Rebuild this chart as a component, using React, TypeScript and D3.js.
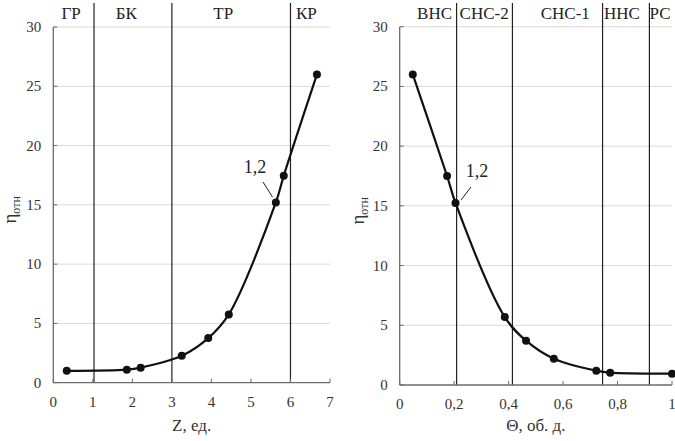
import React from "react";
import * as d3 from "d3";

const zValues = [0.34, 1.86, 2.21, 3.25, 3.92, 4.44, 5.63, 5.83, 6.67];
const etaLeft = [1.0, 1.1, 1.27, 2.27, 3.76, 5.76, 15.2, 17.45, 26.0];
const thetaValues = [0.048, 0.174, 0.205, 0.386, 0.464, 0.566, 0.722, 0.773, 1.0];
const etaRight = [26.0, 17.5, 15.24, 5.69, 3.71, 2.2, 1.2, 1.03, 0.95];
const leftBounds = [1.03, 3.0, 6.0];
const rightBounds = [0.209, 0.414, 0.745, 0.917];
const leftZones = [
  { label: "ГР", x: 0.45 },
  { label: "БК", x: 1.85 },
  { label: "ТР", x: 4.3 },
  { label: "КР", x: 6.4 },
];
const rightZones = [
  { label: "ВНС", x: 0.128 },
  { label: "СНС-2", x: 0.31 },
  { label: "СНС-1", x: 0.608 },
  { label: "ННС", x: 0.816 },
  { label: "РС", x: 0.956 },
];
const yTicks = [0, 5, 10, 15, 20, 25, 30];
const leftXTicks = [0, 1, 2, 3, 4, 5, 6, 7];
const rightXTicks = [0, 0.2, 0.4, 0.6, 0.8, 1];

const FONT = "\"Liberation Serif\", \"Times New Roman\", \"DejaVu Serif\", serif";
const fs = (size: number) => ({ fontFamily: FONT, fontSize: size + "px" });

type PanelProps = {
  xs: number[];
  ys: number[];
  xDomain: [number, number];
  xRange: [number, number];
  yRange: [number, number];
  xTicks: number[];
  fmt: (v: number) => string;
  bounds: number[];
  zones: { label: string; x: number }[];
  title: string;
  yLabelX: number;
  annText: [number, number];
  annLine: [number, number, number, number];
};

function Panel(p: PanelProps) {
  const x = d3.scaleLinear().domain(p.xDomain).range(p.xRange);
  const y = d3.scaleLinear().domain([0, 30]).range(p.yRange);
  const pts = p.xs.map((v, i) => [x(v), y(p.ys[i])] as [number, number]);
  const line = d3.line().curve(d3.curveCatmullRom.alpha(0.5))(pts) || "";
  const [x0, x1] = p.xRange;
  const [y0, y1] = p.yRange;
  const axisColor = "#6b6b6b";
  return (
    <g>
      {yTicks.filter((t) => t > 0).map((t) => (
        <line key={"g" + t} x1={x0} x2={x1} y1={y(t)} y2={y(t)} stroke="#d9d9d9" strokeWidth={1} />
      ))}
      {p.bounds.map((b, i) => (
        <line key={"b" + i} x1={x(b)} x2={x(b)} y1={3} y2={y0} stroke="#222" strokeWidth={1.2} />
      ))}
      <line x1={x0} x2={x0} y1={y0} y2={y1} stroke={axisColor} strokeWidth={1.3} />
      <line x1={x0} x2={x1} y1={y0} y2={y0} stroke={axisColor} strokeWidth={1.3} />
      {yTicks.map((t) => (
        <g key={"yt" + t}>
          <line x1={x0} x2={x0 + 4} y1={y(t)} y2={y(t)} stroke={axisColor} strokeWidth={1} />
          <text x={x0 - 12} y={y(t) + 5} textAnchor="end" style={fs(15)} fill="#333">
            {t}
          </text>
        </g>
      ))}
      {p.xTicks.map((t) => (
        <g key={"xt" + t}>
          <line x1={x(t)} x2={x(t)} y1={y0} y2={y0 - 4} stroke={axisColor} strokeWidth={1} />
          <text x={x(t)} y={y0 + 24} textAnchor="middle" style={fs(15)} fill="#333">
            {p.fmt(t)}
          </text>
        </g>
      ))}
      {p.zones.map((z) => (
        <text key={z.label} x={x(z.x)} y={19} textAnchor="middle" style={fs(17)} fill="#222">
          {z.label}
        </text>
      ))}
      <path d={line} fill="none" stroke="#111" strokeWidth={2.2} />
      {pts.map((pt, i) => (
        <circle key={"p" + i} cx={pt[0]} cy={pt[1]} r={4} fill="#111" />
      ))}
      <text x={p.annText[0]} y={p.annText[1]} textAnchor="middle" style={fs(18)} fill="#222">
        1,2
      </text>
      <line x1={p.annLine[0]} y1={p.annLine[1]} x2={p.annLine[2]} y2={p.annLine[3]} stroke="#222" strokeWidth={1} />
      <text x={(x0 + x1) / 2} y={431} textAnchor="middle" style={fs(17)} fill="#333">
        {p.title}
      </text>
      <text
        transform={`translate(${p.yLabelX}, ${(y0 + y1) / 2 + 5}) rotate(-90)`}
        textAnchor="middle"
        style={{ fontFamily: FONT }}
        fill="#333"
      >
        <tspan style={{ fontSize: "19px" }}>η</tspan>
        <tspan style={{ fontSize: "12px" }} dy={4}>отн</tspan>
      </text>
    </g>
  );
}

export default function App() {
  const fmtL = (v: number) => String(v);
  const fmtR = (v: number) => (v === 0 ? "0" : v === 1 ? "1" : v.toFixed(1).replace(".", ","));
  return (
    <svg width={675} height={441} style={{ position: "absolute", left: 0, top: 0, background: "#fff" }}>
      <rect width={675} height={441} fill="#fff" />
      <Panel
        xs={zValues}
        ys={etaLeft}
        xDomain={[0, 7]}
        xRange={[53.3, 330]}
        yRange={[382.7, 27]}
        xTicks={leftXTicks}
        fmt={fmtL}
        bounds={leftBounds}
        zones={leftZones}
        title="Z, ед."
        yLabelX={16}
        annText={[255, 173]}
        annLine={[263, 182, 272.5, 197]}
      />
      <Panel
        xs={thetaValues}
        ys={etaRight}
        xDomain={[0, 1]}
        xRange={[399.7, 672]}
        yRange={[385, 26.7]}
        xTicks={rightXTicks}
        fmt={fmtR}
        bounds={rightBounds}
        zones={rightZones}
        title="Θ, об. д."
        yLabelX={364}
        annText={[477, 177]}
        annLine={[471, 187, 461, 200]}
      />
    </svg>
  );
}
